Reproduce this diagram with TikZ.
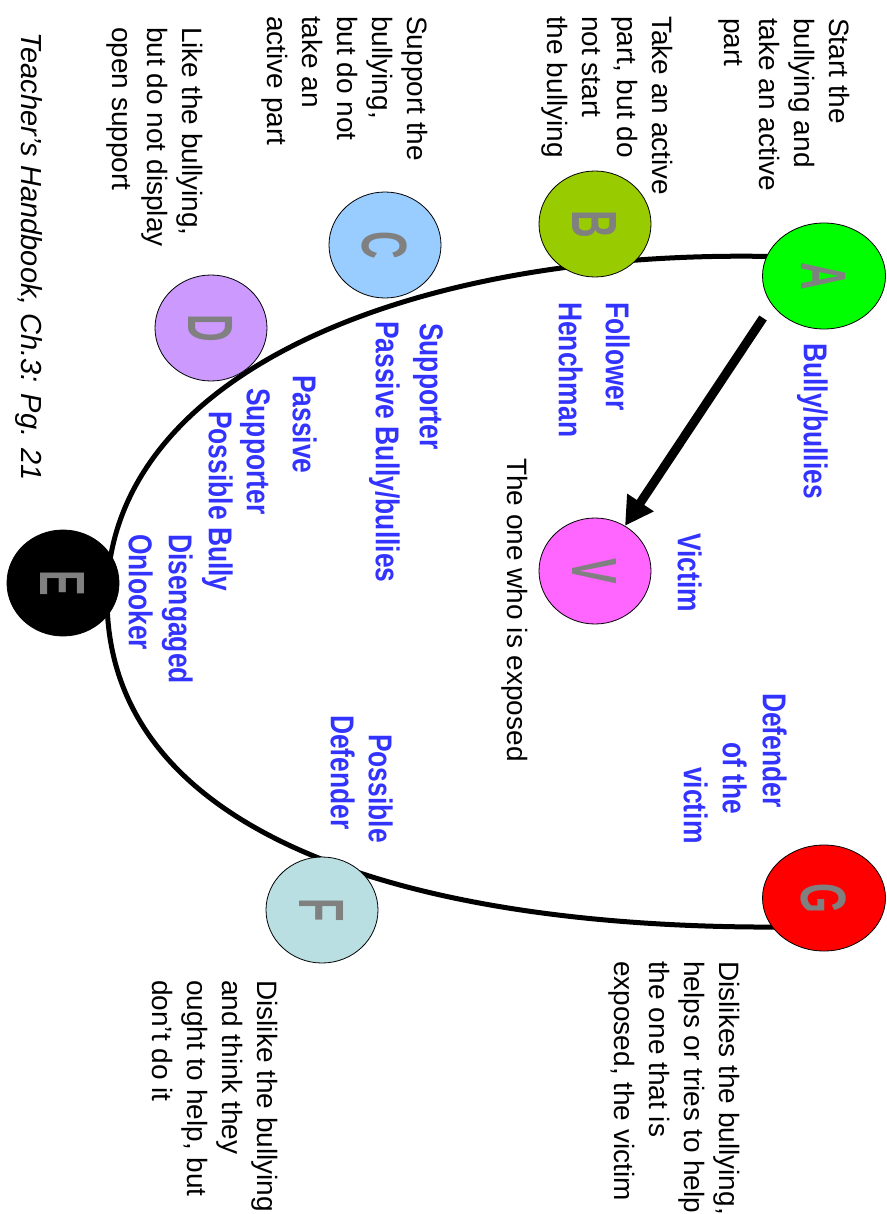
\documentclass[tikz,border=0pt]{standalone}
\usepackage{fontspec}
\setmainfont{Liberation Sans}
\newfontfamily\rolefont{Liberation Sans}[FakeStretch=0.8]
\newfontfamily\letterfont{Liberation Sans}[FakeStretch=0.6]
\usetikzlibrary{shapes.geometric,arrows.meta}
\definecolor{roleblue}{RGB}{51,51,255}
\definecolor{lettergray}{RGB}{128,128,128}
\definecolor{bullygreen}{RGB}{0,255,0}
\definecolor{followergreen}{RGB}{153,204,0}
\definecolor{supporterblue}{RGB}{153,204,255}
\definecolor{passivepurple}{RGB}{204,153,255}
\definecolor{victimpink}{RGB}{255,102,255}
\definecolor{defenderteal}{RGB}{185,223,226}
\definecolor{defenderred}{RGB}{255,0,0}
\begin{document}
\begin{tikzpicture}[x=1pt,y=-1pt,
  person/.style={ellipse, draw=black, line width=0.8pt, inner sep=0pt, minimum width=106pt, minimum height=112pt, rotate=-90, text=lettergray, font=\letterfont\bfseries\fontsize{64}{64}\selectfont},
  note/.style={inner sep=0pt, rotate=-90, anchor=north west, align=left, font=\fontsize{28}{35}\selectfont},
  role/.style={inner sep=0pt, rotate=-90, anchor=north west, text=roleblue, font=\rolefont\bfseries\fontsize{33}{42}\selectfont},
  ring/.style={line width=5pt},
  push/.style={line width=9pt, -{Triangle[length=28pt,width=30pt]}}]
\useasboundingbox (0,0) rectangle (886,1214);
% the ring of bystanders
\draw[ring] (790,257) .. controls (420,245) and (107,370) .. (107,598) .. controls (107,840) and (420,930) .. (790,927);
% the circles
\node[person, fill=bullygreen, minimum height=123pt] (A) at (824,276) {A};
\foreach \nm/\xx/\yy/\col in {B/595/224/followergreen, C/385/245/supporterblue, D/211/328/passivepurple, E/63/583/black, F/322/910/defenderteal, V/595/571/victimpink} {\node[person, fill=\col] (\nm) at (\xx,\yy) {\nm};}
\node[person, fill=defenderred, minimum height=123pt] (G) at (824,898) {G};
% bully to victim
\coordinate (tail) at (763,318);
\draw[push] (tail) -- (V);
% what they do
\node[note] (startnote) at (850,18) {Start the\\bullying and\\take an active\\part};
\node[note] (takenote) at (673,16) {Take an active\\part, but do\\not start\\the bullying};
\node[note] (supportnote) at (428,16) {Support the\\bullying,\\but do not\\take an\\active part};
\node[note] (likenote) at (203,27) {Like the bullying,\\but do not display\\open support};
\node[note] (exposednote) at (528,458) {The one who is exposed};
\node[note] (helpnote) at (740,961) {Dislikes the bullying,\\helps or tries to help\\the one that is\\exposed, the victim};
\node[note] (oughtnote) at (278,980) {Dislike the bullying\\and think they\\ought to help, but\\don't do it};
\node[note, font=\itshape\fontsize{29}{35}\selectfont] (source) at (43,32) {Teacher's Handbook, Ch.3: Pg. 21};
% who they are
\node[role] (bullylabel) at (828,343) {Bully/bullies};
\node[role] (followerlabel) at (630,302) {Follower};
\node[role] (henchmanlabel) at (583,302) {Henchman};
\node[role] (victimlabel) at (702,533) {Victim};
\node[role] (supporterlabel) at (443,323) {Supporter};
\node[role] (passivebullylabel) at (400,321) {Passive Bully/bullies};
\node[role] (passivelabel) at (317,375) {Passive};
\node[role] (passivesupporterlabel) at (270,388) {Supporter};
\node[role] (possiblebullylabel) at (233,411) {Possible Bully};
\node[role] (disengagedlabel) at (193,534) {Disengaged};
\node[role] (onlookerlabel) at (153,534) {Onlooker};
\node[role] (defenderlabel) at (787,693) {Defender};
\node[role] (ofthelabel) at (747,742) {of the};
\node[role] (victimGlabel) at (708,767) {victim};
\node[role] (possiblelabel) at (393,734) {Possible};
\node[role] (possibledefenderlabel) at (355,715) {Defender};
\end{tikzpicture}
\end{document}
